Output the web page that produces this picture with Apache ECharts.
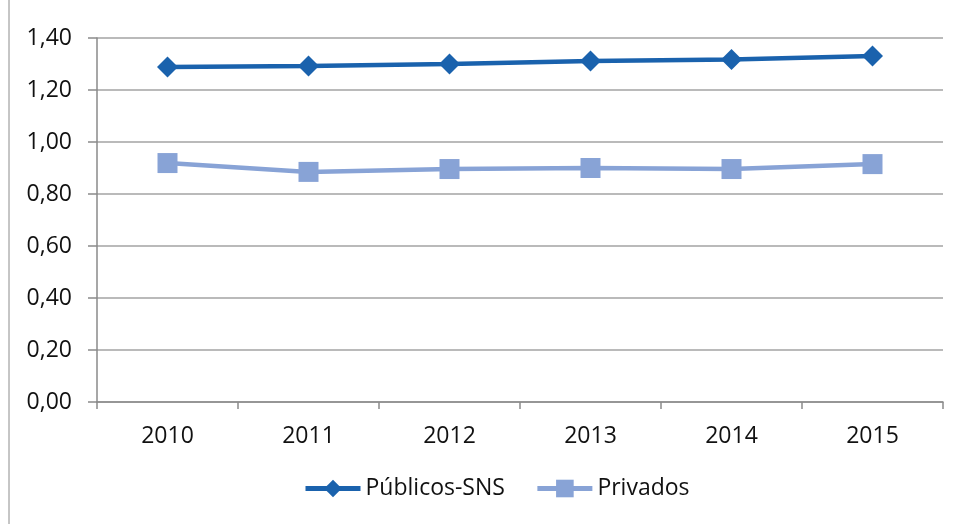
<!doctype html>
<html>
<head>
  <meta charset="utf-8">
  <title>index</title>
  <script src="https://cdn.jsdelivr.net/npm/echarts@6/dist/echarts.min.js"></script>
  <style>
    html, body { margin: 0; padding: 0; background: #fff; }
    #main { width: 954px; height: 524px; }
  </style>
</head>
<body>
  <div id="main"></div>
  <script>
    // dados
    var anos = ['2010', '2011', '2012', '2013', '2014', '2015'];
    var publicos = [1.288, 1.292, 1.300, 1.312, 1.317, 1.331];
    var privados = [0.919, 0.885, 0.896, 0.900, 0.896, 0.915];

    var chart = echarts.init(document.getElementById('main'));
    var fonte = '"Open Sans", "Liberation Sans", sans-serif';

    chart.setOption({
      animation: false,
      textStyle: { fontFamily: fonte },
      graphic: [{
        type: 'rect',
        shape: { x: 9, y: -5, width: 960, height: 540 },
        style: { fill: 'none', stroke: '#8c8c8c', lineWidth: 1 },
        silent: true
      }],
      grid: { left: 97, right: 11, top: 38, bottom: 122, containLabel: false },
      legend: {
        top: 477,
        left: 303,
        padding: 0,
        itemWidth: 55,
        itemHeight: 22,
        itemGap: 30,
        itemStyle: { borderWidth: 0 },
        lineStyle: { width: 5 },
        textStyle: { fontSize: 23, color: '#111', fontFamily: fonte, padding: [0, 0, 0, 0] },
        data: ['Públicos-SNS', 'Privados']
      },
      xAxis: {
        type: 'category',
        data: anos,
        boundaryGap: true,
        axisLine: { lineStyle: { color: '#8a8a8a', width: 1.5 } },
        axisTick: { show: true, length: 7, lineStyle: { color: '#8a8a8a', width: 1.5 } },
        axisLabel: { fontSize: 23, color: '#111', margin: 23 }
      },
      yAxis: {
        type: 'value',
        min: 0,
        max: 1.4,
        interval: 0.2,
        axisLine: { show: true, lineStyle: { color: '#8a8a8a', width: 1.5 } },
        axisTick: { show: true, length: 9, lineStyle: { color: '#8a8a8a', width: 1.5 } },
        splitLine: { lineStyle: { color: '#a3a3a3', width: 1.5 } },
        axisLabel: {
          fontSize: 23,
          color: '#111',
          margin: 25,
          formatter: function (v) { return v.toFixed(2).replace('.', ','); }
        }
      },
      series: [
        {
          name: 'Públicos-SNS',
          type: 'line',
          data: publicos,
          symbol: 'diamond',
          symbolSize: 21,
          itemStyle: { color: '#1a62ad' },
          lineStyle: { color: '#1a62ad', width: 4.5 }
        },
        {
          name: 'Privados',
          type: 'line',
          data: privados,
          symbol: 'rect',
          symbolSize: 20,
          itemStyle: { color: '#88a3d6' },
          lineStyle: { color: '#88a3d6', width: 4.5 }
        }
      ]
    });
  </script>
</body>
</html>
